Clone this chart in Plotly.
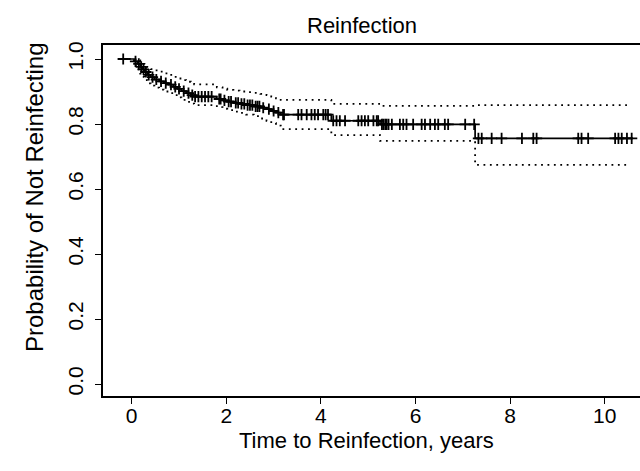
import plotly.graph_objects as go

# ---- data ----
start_time = -0.2
end_time = 10.6
ci_end_time = 10.47

event_times = [0.05, 0.12, 0.18, 0.22, 0.27, 0.33, 0.40, 0.48, 0.58, 0.68, 0.78, 0.88,
               0.97, 1.05, 1.15, 1.25, 1.32, 1.80, 1.92, 2.02, 2.15, 2.28, 2.42, 2.58,
               2.72, 2.85, 2.95, 3.05, 3.15, 4.22, 5.25, 7.26]
surv = [0.993, 0.985, 0.976, 0.968, 0.960, 0.951, 0.944, 0.937, 0.931, 0.926, 0.921, 0.914,
        0.908, 0.901, 0.895, 0.889, 0.884, 0.877, 0.873, 0.869, 0.865, 0.862, 0.858, 0.854,
        0.850, 0.846, 0.840, 0.835, 0.829, 0.810, 0.799, 0.756]
upper = [0.999, 0.996, 0.990, 0.985, 0.980, 0.974, 0.969, 0.965, 0.961, 0.956, 0.951, 0.945,
         0.940, 0.935, 0.930, 0.926, 0.922, 0.913, 0.909, 0.905, 0.903, 0.900, 0.898, 0.896,
         0.893, 0.889, 0.884, 0.879, 0.874, 0.862, 0.856, 0.858]
lower = [0.980, 0.968, 0.955, 0.945, 0.935, 0.925, 0.918, 0.912, 0.906, 0.900, 0.895, 0.889,
         0.882, 0.874, 0.868, 0.863, 0.858, 0.852, 0.847, 0.843, 0.838, 0.834, 0.829, 0.824,
         0.817, 0.810, 0.803, 0.795, 0.784, 0.766, 0.748, 0.674]

censor_times = [-0.18, 0.08, 0.15, 0.20, 0.25, 0.30, 0.36, 0.44, 0.52, 0.62, 0.72, 0.83,
                0.92, 1.00, 1.10, 1.20, 1.28, 1.34, 1.41, 1.48, 1.55, 1.62, 1.69, 1.85,
                1.88, 1.96, 2.05, 2.10, 2.20, 2.25, 2.32, 2.38, 2.45, 2.50, 2.55, 2.62,
                2.66, 2.70, 2.78, 2.90, 3.00, 3.10, 3.20, 3.22, 3.52, 3.59, 3.70, 3.80,
                3.87, 3.94, 4.05, 4.10, 4.15, 4.26, 4.33, 4.40, 4.51, 4.79, 4.86, 4.93,
                5.00, 5.11, 5.18, 5.21, 5.29, 5.32, 5.36, 5.39, 5.43, 5.50, 5.67, 5.74,
                5.81, 5.95, 6.13, 6.20, 6.31, 6.41, 6.48, 6.62, 6.69, 7.05, 7.24, 7.33,
                7.40, 7.61, 7.82, 8.25, 8.49, 8.56, 9.44, 9.51, 9.65, 10.22, 10.29, 10.36,
                10.47, 10.57]

x_ticks = [0, 2, 4, 6, 8, 10]
y_ticks = [0.0, 0.2, 0.4, 0.6, 0.8, 1.0]
y_tick_labels = ["0.0", "0.2", "0.4", "0.6", "0.8", "1.0"]

title_text = "Reinfection"
x_title = "Time to Reinfection, years"
y_title = "Probability of Not Reinfecting"


def surv_at(t, times, values, init=1.0):
    s = init
    for tt, v in zip(times, values):
        if tt <= t:
            s = v
        else:
            break
    return s


censor_surv = [surv_at(t, event_times, surv) for t in censor_times]

km_x = [start_time] + event_times + [end_time]
km_y = [1.0] + surv + [surv[-1]]
ci_x = [start_time] + event_times + [ci_end_time]
up_y = [1.0] + upper + [upper[-1]]
lo_y = [1.0] + lower + [lower[-1]]

FONT = "Liberation Sans, Arial, Helvetica, sans-serif"
W, H = 640, 471
ML, MT, MB = 103, 45, 75
PW, PH = W - ML, H - MT - MB

fig = go.Figure()
fig.add_trace(go.Scatter(x=ci_x, y=up_y, mode="lines", line_shape="hv",
                         line=dict(color="black", width=1.8, dash="1.8px,4.6px"),
                         hoverinfo="skip"))
fig.add_trace(go.Scatter(x=ci_x, y=lo_y, mode="lines", line_shape="hv",
                         line=dict(color="black", width=1.8, dash="1.8px,4.6px"),
                         hoverinfo="skip"))
fig.add_trace(go.Scatter(x=km_x, y=km_y, mode="lines", line_shape="hv",
                         line=dict(color="black", width=1.7)))
fig.add_trace(go.Scatter(x=censor_times, y=censor_surv, mode="markers",
                         marker=dict(symbol="cross-thin", size=8,
                                     line=dict(color="black", width=1.8))))

fig.update_layout(
    width=W, height=H,
    margin=dict(l=ML, r=0, t=MT, b=MB, autoexpand=False),
    paper_bgcolor="white", plot_bgcolor="white",
    showlegend=False,
    font=dict(family=FONT, color="black"),
    xaxis=dict(range=[-0.607, 10.746], tickvals=x_ticks, ticktext=[str(v) for v in x_ticks],
               showgrid=False, zeroline=False, showline=True, mirror=True,
               linecolor="black", linewidth=1.5, ticks="outside", ticklen=6,
               tickwidth=1, tickcolor="black", tickfont=dict(size=21),
               ticklabelstandoff=-6, automargin=False),
    yaxis=dict(range=[-0.0369, 1.0431], tickvals=y_ticks, ticktext=y_tick_labels,
               showgrid=False, zeroline=False, showline=True, mirror=False,
               linecolor="black", linewidth=1.5, ticks="outside", ticklen=6,
               tickwidth=1, tickcolor="black", tickangle=-90, tickfont=dict(size=21),
               ticklabelstandoff=4, automargin=False),
    annotations=[
        dict(text=title_text, xref="paper", yref="paper", x=(362 - ML) / PW,
             y=1 + (MT - 25) / PH, xanchor="center", yanchor="middle", showarrow=False,
             font=dict(size=22)),
        dict(text=x_title, xref="paper", yref="paper", x=(366 - ML) / PW,
             y=-(440 - (H - MB)) / PH, xanchor="center", yanchor="middle", showarrow=False,
             font=dict(size=22)),
        dict(text=y_title, xref="paper", yref="paper", x=-(ML - 34) / PW,
             y=((H - MB) - 197) / PH, xanchor="center", yanchor="middle", showarrow=False,
             textangle=-90, font=dict(size=24)),
    ],
)

fig.write_html("out.html", config={"displayModeBar": False},
               post_script="document.body.style.margin='0';document.body.style.padding='0';document.body.style.overflow='hidden';")
